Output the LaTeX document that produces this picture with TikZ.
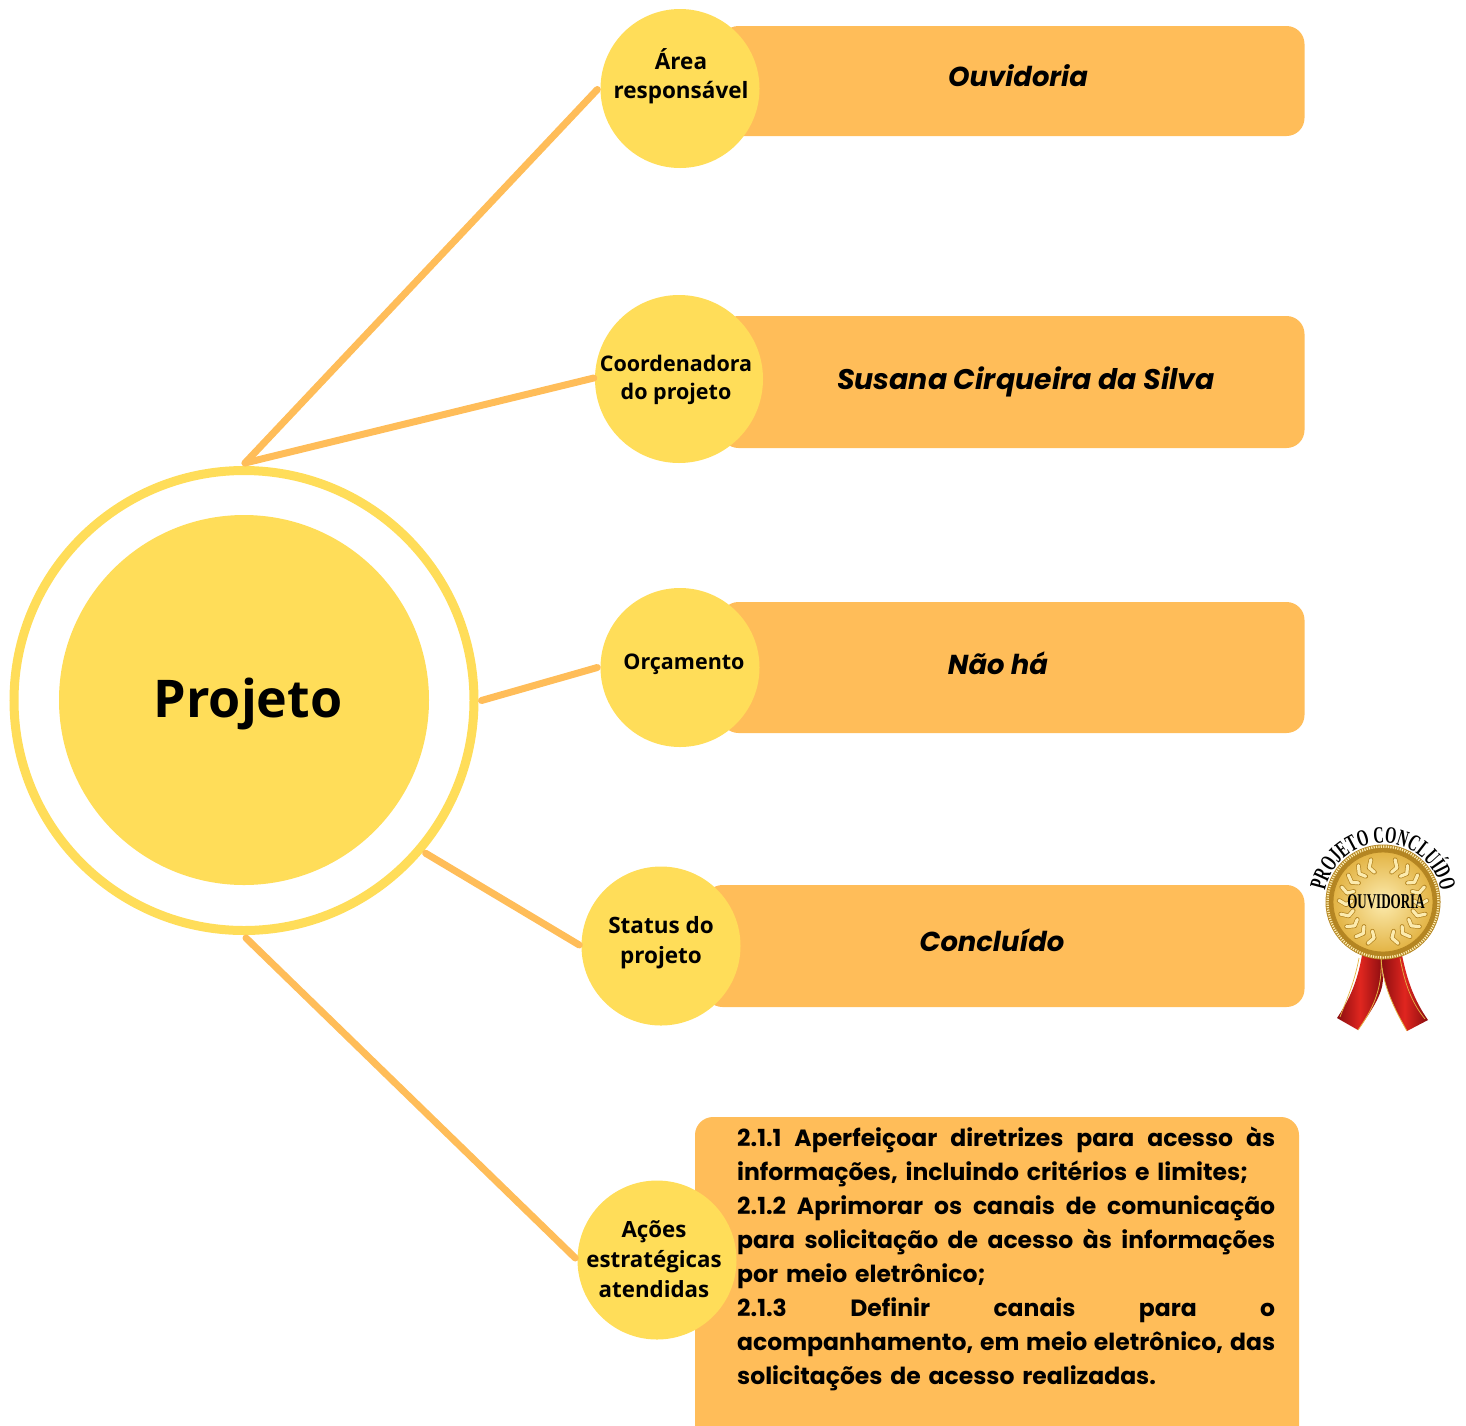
\documentclass[tikz,border=0pt]{standalone}
\usepackage{fontspec}
\setmainfont{Open Sans}
\newfontfamily\bodyfont{Poppins}
\newfontfamily\medalfont[FakeStretch=0.62]{Liberation Serif}
\usetikzlibrary{decorations.text,calc}
\definecolor{sun}{HTML}{FFDD59}
\definecolor{amber}{HTML}{FFBD59}
\definecolor{goldA}{HTML}{FCEBAE}
\definecolor{goldB}{HTML}{E3B445}
\definecolor{goldC}{HTML}{B48522}
\definecolor{ribbonA}{HTML}{E0261F}
\definecolor{ribbonB}{HTML}{8A0D10}
\newcommand{\fullline}[1]{\hbox to 538pt{\spaceskip=.2em plus 1fil\relax #1}}
\newcommand{\freeline}[1]{\hbox to 538pt{#1\hfil}}
\tikzset{
  link/.style={draw=amber,line width=7pt,line cap=round},
  topic/.style={circle,fill=sun,inner sep=0pt,minimum size=#1,text=black},
  band/.style n args={2}{rectangle,rounded corners=18pt,fill=amber,inner sep=0pt,minimum width=#1,minimum height=#2},
  answer/.style={font=\bodyfont\bfseries\itshape\fontsize{27.4}{32}\selectfont,text=black,inner sep=0pt},
  leafdark/.style={draw=goldC,line width=4.6pt,line cap=round},
  leaflight/.style={draw=goldA,line width=3.2pt,line cap=round},
}
\begin{document}
\begin{tikzpicture}[x=1pt,y=-1pt]
\useasboundingbox (0,0) rectangle (1466,1425);
\clip (0,0) rectangle (1466,1425);
% centre
\node[circle,draw=sun,line width=9pt,fill=white,minimum size=460pt,inner sep=0pt] (ring) at (244,700.5) {};
\node[circle,fill=sun,minimum size=370pt,inner sep=0pt] (core) at (244,700) {};
\node[font=\bfseries\fontsize{52}{60}\selectfont,text=black,inner sep=0pt] (coretext) at (248,704) {Projeto};
% bands
\node[band={584pt}{110pt}] (r1) at (1012.5,81) {};
\node[band={584pt}{132pt}] (r2) at (1012.5,382) {};
\node[band={584pt}{131pt}] (r3) at (1012.5,667.5) {};
\node[band={600pt}{122pt}] (r4) at (1004.5,946) {};
\node[band={604pt}{330pt}] (r5) at (997,1282) {};
% connectors
\coordinate (top) at (245,463);
\coordinate (bot) at (246,938);
\node[topic=159pt] (a) at (680,88.5) {};
\node[topic=168pt] (b) at (679,379) {};
\node[topic=159pt] (c) at (680,667.5) {};
\node[topic=159pt] (d) at (661,946) {};
\node[topic=159pt] (e) at (657,1260) {};
\draw[link] (top) -- ($(a.west)+(-3,1)$);
\draw[link] (top) -- ($(b.west)+(-1,-1)$);
\draw[link] ($(ring.east)+(3,0)$) -- ($(c.west)+(-3,0)$);
\draw[link] ($(ring.-40)+(2,2)$) -- ($(d.west)+(-2,-1)$);
\draw[link] (bot) -- ($(e.west)+(-2,-2)$);
% circle labels
\node[font=\bfseries\fontsize{22.5}{29}\selectfont,align=center,inner sep=0pt] (ta) at (681,76) {Área\\responsável};
\node[font=\bfseries\fontsize{21.5}{28}\selectfont,align=center,inner sep=0pt] (tb) at (676,379.5) {Coordenadora\\do projeto};
\node[font=\bfseries\fontsize{21.5}{28}\selectfont,align=center,inner sep=0pt] (tc) at (684,664) {Orçamento};
\node[font=\bfseries\fontsize{22.5}{30}\selectfont,align=center,inner sep=0pt] (td) at (661,943) {Status do\\projeto};
\node[font=\bfseries\fontsize{22.3}{30}\selectfont,align=center,inner sep=0pt] (te) at (654,1259) {Ações\\estratégicas\\atendidas};
% answers
\node[answer] (t1) at (1018,76) {Ouvidoria};
\node[answer,font=\bodyfont\bfseries\itshape\fontsize{28.4}{32}\selectfont] (t2) at (1026,382) {Susana Cirqueira da Silva};
\node[answer] (t3) at (998,663) {Não há};
\node[answer] (t4) at (992,940) {Concluído};
\node[text width=538pt,inner sep=0pt,anchor=north west,font=\bodyfont\bfseries\fontsize{23.5}{34}\selectfont,text=black] (t5) at (737,1127) {%
\fullline{2.1.1 Aperfeiçoar diretrizes para acesso às}
\freeline{informações, incluindo critérios e limites;}
\fullline{2.1.2 Aprimorar os canais de comunicação}
\fullline{para solicitação de acesso às informações}
\freeline{por meio eletrônico;}
\fullline{2.1.3 Definir canais para o}
\fullline{acompanhamento, em meio eletrônico, das}
\freeline{solicitações de acesso realizadas.}};
% medal ribbons
\shade[left color=ribbonB,right color=ribbonB,middle color=ribbonA]
  (1362,955) .. controls (1357,985) and (1347,1003) .. (1337,1018)
  -- (1358,1030) .. controls (1372,1010) and (1382,995) .. (1383,980) -- (1381,955) -- cycle;
\shade[left color=ribbonB,right color=ribbonB,middle color=ribbonA]
  (1381,955) .. controls (1382,985) and (1395,1010) .. (1407,1031)
  -- (1428,1020) .. controls (1414,1000) and (1407,980) .. (1402,955) -- cycle;
\draw[goldB,line width=0.8pt] (1381,957) .. controls (1382,985) and (1395,1010) .. (1407,1031);
\draw[goldB,line width=0.8pt] (1381,957) .. controls (1383,990) and (1372,1010) .. (1358,1030);
\draw[goldB,line width=0.7pt] (1359,958) .. controls (1354,985) and (1345,1003) .. (1340,1017);
\draw[goldB,line width=0.7pt] (1400,958) .. controls (1405,985) and (1412,1003) .. (1425,1019);
% medal disc
\begin{scope}[shift={(1383,902)}]
\fill[goldC] (0,0) circle[radius=57.5];
\draw[goldA,line width=2.4pt,dash pattern=on 1.2pt off 1.2pt] (0,0) circle[radius=55.5];
\shade[inner color=goldA,outer color=goldB] (0,0) circle[radius=50];
\draw[goldC,line width=0.8pt] (0,0) circle[radius=50];
\foreach \a in {104,122,...,250}{
  \draw[leafdark] (\a:37) -- (\a+6:44);
  \draw[leafdark] (\a:37) -- (\a+6:31);
  \draw[leafdark] (180-\a:37) -- (174-\a:44);
  \draw[leafdark] (180-\a:37) -- (174-\a:31);
  \draw[leaflight] (\a:37) -- (\a+6:44);
  \draw[leaflight] (\a:37) -- (\a+6:31);
  \draw[leaflight] (180-\a:37) -- (174-\a:44);
  \draw[leaflight] (180-\a:37) -- (174-\a:31);
}
\end{scope}
\node[font=\medalfont\bfseries\fontsize{21}{22}\selectfont,inner sep=0pt,text=black] (medaltext) at (1386,902) {OUVIDORIA};
\coordinate (arcL) at ($(1383,902)+(-176:59)$);
\path[decorate,decoration={text along path,text align=center,
   text={|\medalfont\bfseries\fontsize{23.5}{26}\selectfont|PROJETO CONCLUÍDO}}]
   (arcL) arc[start angle=-176,end angle=-4,radius=59];
\end{tikzpicture}
\end{document}
